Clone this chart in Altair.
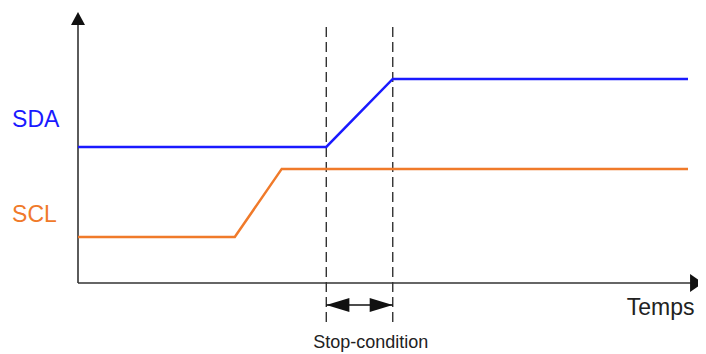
import altair as alt
import pandas as pd

# Time axis (arbitrary units) and signal levels
scl_t = [0, 25.7, 33.4, 100]
scl_v = [1.67, 1.67, 4.15, 4.15]
sda_t = [0, 40.7, 51.6, 100]
sda_v = [4.95, 4.95, 7.42, 7.42]
stop_marks = [40.7, 51.6]
axis_x_end = 101.0
axis_y_end = 9.38
labels = ["SDA", "SCL"]
label_y = [5.67, 2.22]
label_colors = ["#1a1aff", "#f07a2a"]

xs = alt.Scale(domain=[0, 100], range=[70, 680])
ys = alt.Scale(domain=[0, 10], range=[275, 0])

def X(f="t"):
    return alt.X(f"{f}:Q", scale=xs, axis=None)

def Y(f="v"):
    return alt.Y(f"{f}:Q", scale=ys, axis=None)

sig = pd.DataFrame(
    {"t": scl_t + sda_t, "v": scl_v + sda_v,
     "s": ["SCL"] * 4 + ["SDA"] * 4, "o": list(range(4)) * 2}
)
lines = alt.Chart(sig).mark_line(strokeWidth=2.5, strokeCap="butt").encode(
    x=X(), y=Y(), detail="s:N", order="o:Q",
    color=alt.Color("s:N", scale=alt.Scale(domain=labels, range=label_colors), legend=None),
)

# axes
xaxis = alt.Chart(pd.DataFrame({"t": [0], "t2": [axis_x_end], "v": [0]})).mark_rule(
    color="#333333", strokeWidth=1.6).encode(x=X(), x2="t2:Q", y=Y())
yaxis = alt.Chart(pd.DataFrame({"t": [0], "v": [0], "v2": [axis_y_end]})).mark_rule(
    color="#333333", strokeWidth=1.6).encode(x=X(), y=Y(), y2="v2:Q")
xhead = alt.Chart(pd.DataFrame({"t": [101.4], "v": [0]})).mark_point(
    shape="M-0.72,-1L0.72,0L-0.72,1Z", size=324, filled=True, color="#111111", opacity=1
).encode(x=X(), y=Y())
yhead = alt.Chart(pd.DataFrame({"t": [0], "v": [9.62]})).mark_point(
    shape="M-1,0.93L0,-0.93L1,0.93Z", size=196, filled=True, color="#111111", opacity=1
).encode(x=X(), y=Y())

# dashed stop-condition markers
dash = alt.Chart(pd.DataFrame({"t": stop_marks, "v": [-1.42] * 2, "v2": [axis_y_end] * 2})).mark_rule(
    color="#222222", strokeWidth=1.3, strokeDash=[10, 5]).encode(x=X(), y=Y(), y2="v2:Q")

# double arrow
shaft = alt.Chart(pd.DataFrame({"t": [stop_marks[0]], "t2": [stop_marks[1]], "v": [-0.8]})).mark_rule(
    color="#111111", strokeWidth=1.4).encode(x=X(), x2="t2:Q", y=Y())
lhead = alt.Chart(pd.DataFrame({"t": [42.6], "v": [-0.8]})).mark_point(
    shape="M-1,0L1,-0.6L1,0.6Z", size=529, filled=True, color="#111111", opacity=1
).encode(x=X(), y=Y())
rhead = alt.Chart(pd.DataFrame({"t": [49.7], "v": [-0.8]})).mark_point(
    shape="M1,0L-1,-0.6L-1,0.6Z", size=529, filled=True, color="#111111", opacity=1
).encode(x=X(), y=Y())

# texts
sig_labels = alt.Chart(pd.DataFrame({"t": [-10.8] * 2, "v": label_y, "s": labels})).mark_text(
    align="left", baseline="alphabetic", font="Liberation Sans", fontSize=23
).encode(x=X(), y=Y(), text="s:N",
         color=alt.Color("s:N", scale=alt.Scale(domain=labels, range=label_colors), legend=None))
temps = alt.Chart(pd.DataFrame({"t": [95.5], "v": [-1.16], "s": ["Temps"]})).mark_text(
    align="center", baseline="alphabetic", font="Liberation Sans", fontSize=23, color="#222222"
).encode(x=X(), y=Y(), text="s:N")
stop = alt.Chart(pd.DataFrame({"t": [48.0], "v": [-2.38], "s": ["Stop-condition"]})).mark_text(
    align="center", baseline="alphabetic", font="Liberation Sans", fontSize=18, color="#222222"
).encode(x=X(), y=Y(), text="s:N")

chart = alt.layer(
    dash, xaxis, yaxis, xhead, yhead, lines, shaft, lhead, rhead, sig_labels, temps, stop
).properties(
    width=690, height=346, autosize=alt.AutoSizeParams(type="none"), padding=0
).configure_view(stroke=None)

chart.save("out.html", embed_options={"renderer": "svg", "actions": False})
